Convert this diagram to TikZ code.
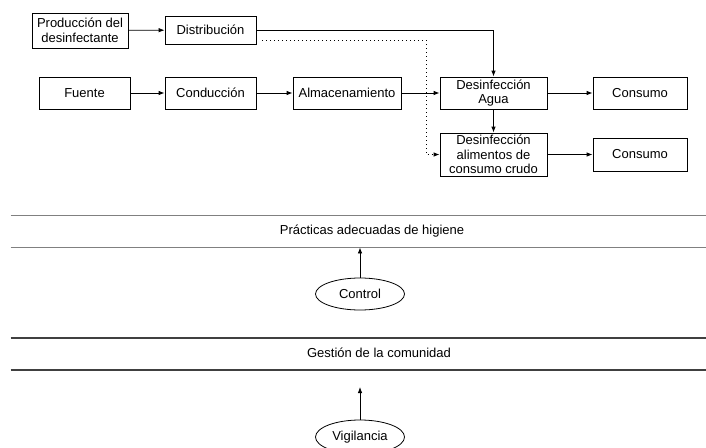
\documentclass[tikz,border=0pt]{standalone}
\usepackage{fontspec}
\setmainfont{Liberation Sans}
\usetikzlibrary{arrows.meta,shapes.geometric}
\tikzstyle{caja} = [rectangle, draw=black, line width=0.8pt, inner sep=1pt, minimum height=32pt, align=center, font=\fontsize{13}{14.5}\selectfont]
\tikzstyle{ovalo} = [ellipse, draw=black, line width=0.8pt, inner sep=0pt, minimum width=89pt, minimum height=32pt, font=\fontsize{13}{14.5}\selectfont]
\tikzstyle{banda} = [rectangle, minimum width=695pt, minimum height=31pt, inner sep=0pt]
\tikzstyle{rotulo} = [font=\fontsize{13}{14.5}\selectfont]

\begin{document}
\begin{tikzpicture}[x=1pt, y=-1pt, >={Latex[length=6pt,width=4.5pt]}, line width=0.8pt]

        \useasboundingbox (0,0) rectangle (706,447);

        %% cadena del agua

        \node (prod) [caja, minimum width=96pt, minimum height=35pt] at (80,30.5) {Producción del\\desinfectante};
        \node (dist) [caja, minimum width=91pt, minimum height=28pt] at (210.5,30) {Distribución};

        \node (fuente) [caja, minimum width=91pt] at (84.5,93) {Fuente};
        \node (cond) [caja, minimum width=91pt] at (210.5,93) {Conducción};
        \node (alm) [caja, minimum width=108pt] at (347,93) {Almacenamiento};
        \node (desagua) [caja, minimum width=107pt] at (493.5,93) {Desinfección\\Agua};
        \node (cons1) [caja, minimum width=94pt] at (640,93) {Consumo};

        \node (desalim) [caja, minimum width=107pt, minimum height=43pt] at (493.5,154.5) {Desinfección\\alimentos de\\consumo crudo};
        \node (cons2) [caja, minimum width=94pt, minimum height=33pt] at (640,154.5) {Consumo};

        \draw[->] (prod) -- (dist);
        \draw[->] (fuente) -- (cond);
        \draw[->] (cond) -- (alm);
        \draw[->] (alm) -- (desagua);
        \draw[->] (desagua) -- (cons1);
        \draw[->] (desalim) -- (cons2);
        \draw[->] (dist.east) -| (desagua.north);
        \draw[->] (desagua) -- (desalim);

        \coordinate (pt1) at (262,40);
        \coordinate (pt2) at (426,154.5);
        \draw[->, dash pattern=on 1pt off 3pt] (pt1) -| (pt2) -- (desalim.west);

        %% control y vigilancia

        \node (higiene) [banda] at (358.5,231.5) {};
        \node (gestion) [banda] at (358.5,354) {};
        \draw[gray, line width=1.4pt] (higiene.north west) -- (higiene.north east);
        \draw[gray, line width=1.4pt] (higiene.south west) -- (higiene.south east);
        \draw[black!75, line width=1.4pt] (gestion.north west) -- (gestion.north east);
        \draw[black!75, line width=1.4pt] (gestion.south west) -- (gestion.south east);

        \node (txthig) [rotulo] at (372,231) {Prácticas adecuadas de higiene};
        \node (txtges) [rotulo] at (379,353) {Gestión de la comunidad};

        \node (control) [ovalo] at (360,294) {Control};
        \node (vigila) [ovalo, minimum height=34pt] at (360,437) {Vigilancia};

        \coordinate (vtip) at (360,387);
        \draw[->] (control) -- (control |- higiene.south);
        \draw[->] (vigila) -- (vtip);

\end{tikzpicture}
\end{document}
